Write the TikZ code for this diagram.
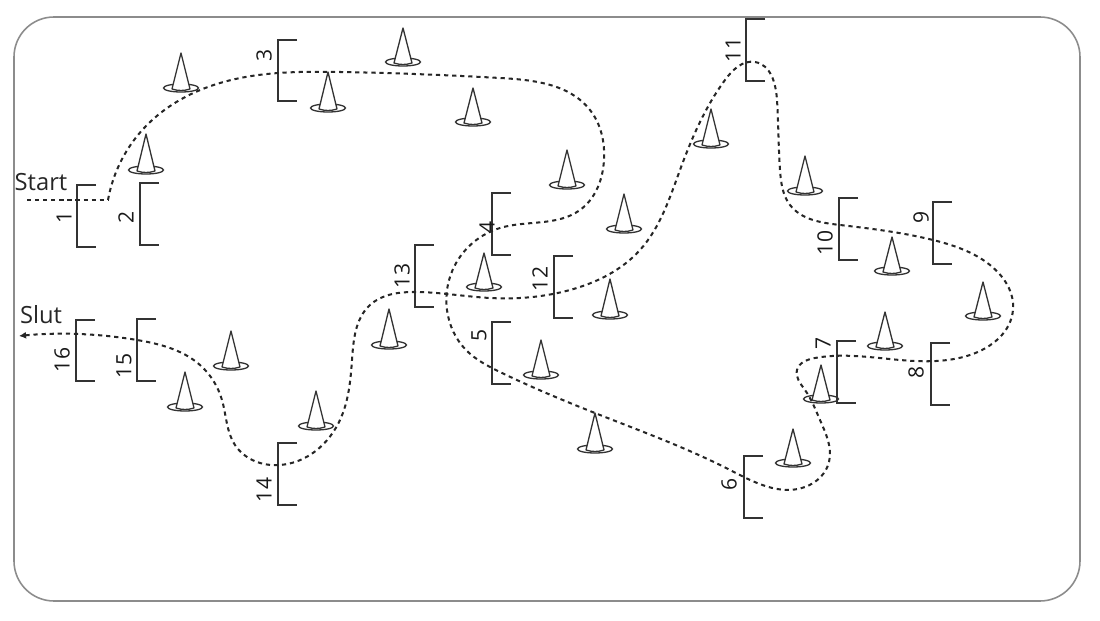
\documentclass[tikz,border=0pt]{standalone}
\usepackage{fontspec}
\setmainfont{Open Sans}
\usetikzlibrary{arrows.meta,hobby}
\tikzset{
  track/.style={line width=1.15pt, dash pattern=on 2.4pt off 2.2pt, draw=black!85},
  gatebar/.style={line width=1pt, draw=black!80},
  gatenum/.style={rotate=90, font=\fontsize{12}{12}\selectfont, text=black!90, inner sep=0pt},
  conepart/.style={line width=0.75pt, draw=black!80, fill=white},
  endlabel/.style={font=\fontsize{13.5}{14}\selectfont, text=black!85, inner sep=0pt}
}
\begin{document}
\begin{tikzpicture}[x=0.02cm, y=-0.02cm]
\useasboundingbox (0,0) rectangle (1100,621);
% Frame
\draw[black!45, line width=0.9pt, rounded corners=0.8cm] (14,17) rectangle (1080,601);
% Cones
\foreach \cx/\cy/\ctop in {181/88/53, 146/170/134, 403/62/28, 328/108/72, 473/122/88,
  567/185/150, 624/229/194, 711/144/109, 805/191/156, 892/271/237, 983/316/282,
  885/346/312, 821/399/365, 793/463/429, 595/449/413, 541/375/340, 484/287/253,
  610/315/279, 389/345/309, 316/426/391, 231/366/331, 185/407/372}{
  \draw[conepart] (\cx,\cy) ellipse [x radius=0.35cm, y radius=0.08cm];
  \draw[conepart, line join=round] (\cx-9,\cy+1) -- (\cx,\ctop) -- (\cx+9,\cy+1)
    .. controls (\cx+3,\cy+3) and (\cx-3,\cy+3) .. cycle;
}
% Gates: x, top, bottom, number, number position
\foreach \gx/\gt/\gb/\gn/\lx/\ly in {77/185/247/1/64/217, 140/183/245/2/126/217,
  278/40/101/3/264/55, 492/193/255/4/487/227, 492/322/384/5/479/335, 744/456/518/6/729/484,
  837/341/403/7/823/343, 931/343/405/8/916/372, 933/202/264/9/921/217, 839/198/260/10/825/243,
  746/19/81/11/733/50, 554/256/318/12/540/279, 415/245/307/13/402/276, 278/443/505/14/264/490,
  137/319/381/15/124/366, 76/320/381/16/62/360}{
  \draw[gatebar] (\gx+19,\gt) -- (\gx,\gt) -- (\gx,\gb) -- (\gx+19,\gb);
  \node[gatenum] (num\gn) at (\lx,\ly) {\gn};
}
% Labels
\node[endlabel] (startlabel) at (41,182) {Start};
\node[endlabel] (slutlabel) at (41,315) {Slut};
% Track
\coordinate (start) at (27,200);
\coordinate (bend) at (108,200);
\coordinate (slut) at (19,336);
\draw[track] (start) -- (bend);
\draw[track, -{Latex[length=4pt,width=4pt]}, use Hobby shortcut] (bend) .. (147,125) .. (220,83) .. (340,72) .. (500,78)
  .. (590,110) .. (604,160) .. (580,210) .. (500,228) .. (455,265) .. (447,310) .. (466,350) .. (500,372)
  .. (600,415) .. (730,470) .. (805,487) .. (829,462) .. (820,420) .. (805,390) .. (797,370) .. (815,358)
  .. (900,360) .. (970,355) .. (1013,310) .. (990,265) .. (933,240) .. (840,225) .. (790,205) .. (780,170)
  .. (777,100) .. (755,62) .. (725,80) .. (680,170) .. (640,250) .. (570,290) .. (490,298) .. (415,292)
  .. (370,305) .. (352,360) .. (340,420) .. (280,465) .. (235,445) .. (222,400) .. (200,365) .. (137,340) .. (slut);
\end{tikzpicture}
\end{document}
